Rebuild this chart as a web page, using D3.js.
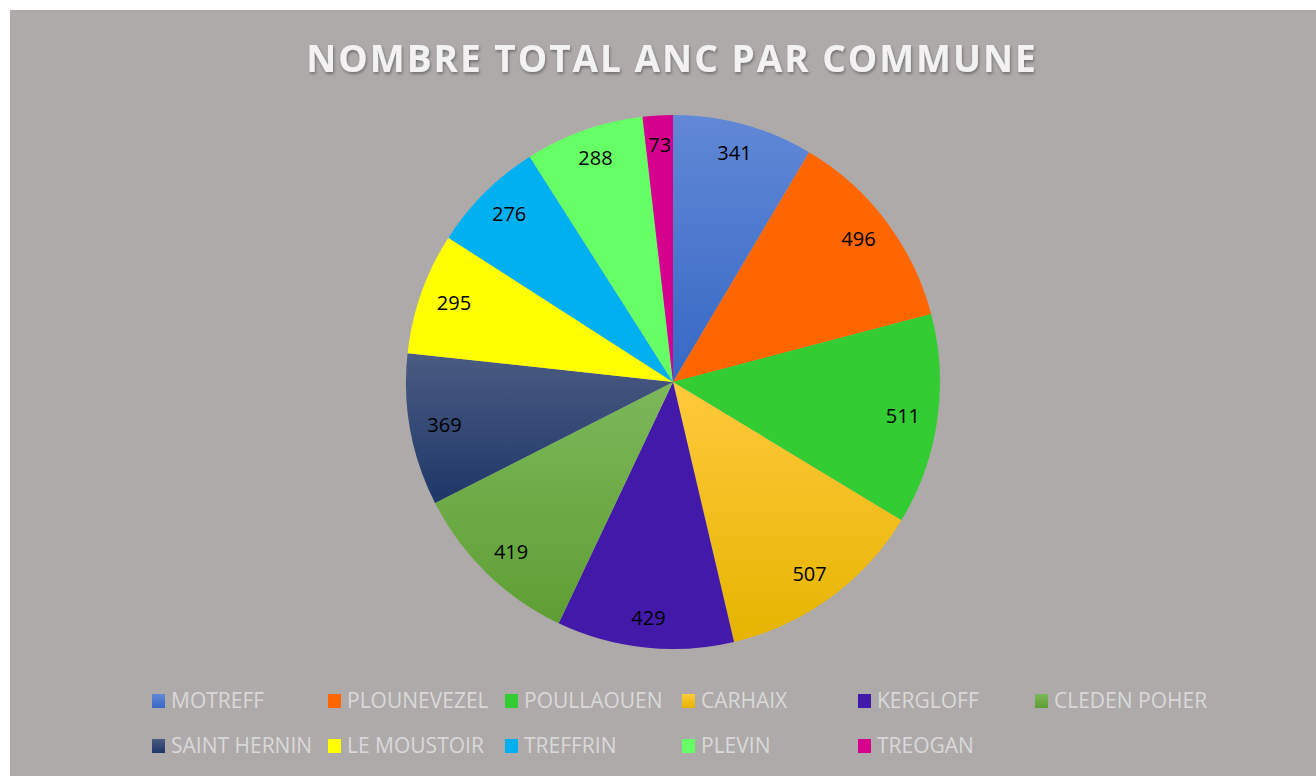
<!DOCTYPE html>
<html>
<head>
<meta charset="utf-8">
<script src="https://cdn.jsdelivr.net/npm/d3@7"></script>
<style>
  html, body { margin: 0; padding: 0; background: #ffffff; }
  svg { display: block; }
</style>
</head>
<body>
<div id="chart"></div>
<script>
// data
const communes = ["MOTREFF", "PLOUNEVEZEL", "POULLAOUEN", "CARHAIX", "KERGLOFF", "CLEDEN POHER",
                  "SAINT HERNIN", "LE MOUSTOIR", "TREFFRIN", "PLEVIN", "TREOGAN"];
const totals = [341, 496, 511, 507, 429, 419, 369, 295, 276, 288, 73];
const title = "NOMBRE TOTAL ANC PAR COMMUNE";

// [top, bottom] of each slice fill
const sliceColors = [
    ["#6188d6", "#3668c4"],
    ["#ff6600", "#ff6600"],
    ["#33cc33", "#33cc33"],
    ["#ffc93c", "#e6b400"],
    ["#4319a9", "#4319a9"],
    ["#7cb85a", "#5f9e34"],
    ["#4b5b82", "#1e3768"],
    ["#ffff00", "#ffff00"],
    ["#00b0f0", "#00b0f0"],
    ["#66ff66", "#66ff66"],
    ["#d6008f", "#d6008f"]
];

const width = 1316, height = 776;
const cx = 673, cy = 382, radius = 267;

const svg = d3.select("#chart").append("svg")
    .attr("width", width)
    .attr("height", height);

const defs = svg.append("defs");

sliceColors.forEach((c, i) => {
    const g = defs.append("linearGradient")
        .attr("id", "grad" + i)
        .attr("x1", 0).attr("y1", 0).attr("x2", 0).attr("y2", 1);
    g.append("stop").attr("offset", "0%").attr("stop-color", c[0]);
    g.append("stop").attr("offset", "100%").attr("stop-color", c[1]);
});

const shadow = defs.append("filter").attr("id", "tshadow")
    .attr("x", "-5%").attr("y", "-20%").attr("width", "110%").attr("height", "160%");
shadow.append("feDropShadow")
    .attr("dx", 1).attr("dy", 2).attr("stdDeviation", 1.5)
    .attr("flood-color", "#000").attr("flood-opacity", 0.35);

// background panel
svg.append("rect")
    .attr("x", 10).attr("y", 10)
    .attr("width", width - 10).attr("height", height - 10)
    .attr("fill", "#aeaaaa");

// title
svg.append("text")
    .attr("x", 672)
    .attr("y", 72)
    .attr("text-anchor", "middle")
    .attr("fill", "#f2f2f2")
    .attr("filter", "url(#tshadow)")
    .style("font-family", "'Open Sans', sans-serif")
    .style("font-weight", "bold")
    .style("font-size", "37px")
    .style("letter-spacing", "2px")
    .text(title);

// pie
const data = communes.map((name, i) => ({ name, value: totals[i], i }));

const pie = d3.pie()
    .sort(null)
    .value(d => d.value);

const arc = d3.arc().innerRadius(0).outerRadius(radius);

// labels sit a little further out vertically than horizontally
const labelRx = radius * 0.87, labelRy = radius * 0.89;
const labelPos = d => {
    const a = (d.startAngle + d.endAngle) / 2;
    return [labelRx * Math.sin(a), -labelRy * Math.cos(a)];
};

const chart = svg.append("g")
    .attr("transform", `translate(${cx}, ${cy})`);

const arcs = pie(data);

chart.selectAll("path.slice")
    .data(arcs)
    .enter()
    .append("path")
    .attr("class", "slice")
    .attr("d", arc)
    .attr("fill", d => `url(#grad${d.data.i})`);

chart.selectAll("text.label")
    .data(arcs)
    .enter()
    .append("text")
    .attr("class", "label")
    .attr("transform", d => `translate(${labelPos(d)})`)
    .attr("text-anchor", "middle")
    .attr("dy", "0.35em")
    .attr("fill", "#000")
    .style("font-family", "'Open Sans', sans-serif")
    .style("font-size", "20px")
    .text(d => d.data.value);

// legend
const colX = [152, 328, 505, 682, 858, 1035];
const rowY = [701, 746];

const legend = svg.append("g");

communes.forEach((name, i) => {
    const col = i % 6, row = Math.floor(i / 6);
    const g = legend.append("g")
        .attr("transform", `translate(${colX[col]}, ${rowY[row]})`);

    g.append("rect")
        .attr("x", 0)
        .attr("y", -7)
        .attr("width", 13)
        .attr("height", 14)
        .attr("fill", `url(#grad${i})`);

    g.append("text")
        .attr("x", 19)
        .attr("y", 0)
        .attr("dy", "0.35em")
        .attr("fill", "#d9d9d9")
        .style("font-family", "'Open Sans', sans-serif")
        .style("font-size", "21px")
        .text(name);
});
</script>
</body>
</html>
